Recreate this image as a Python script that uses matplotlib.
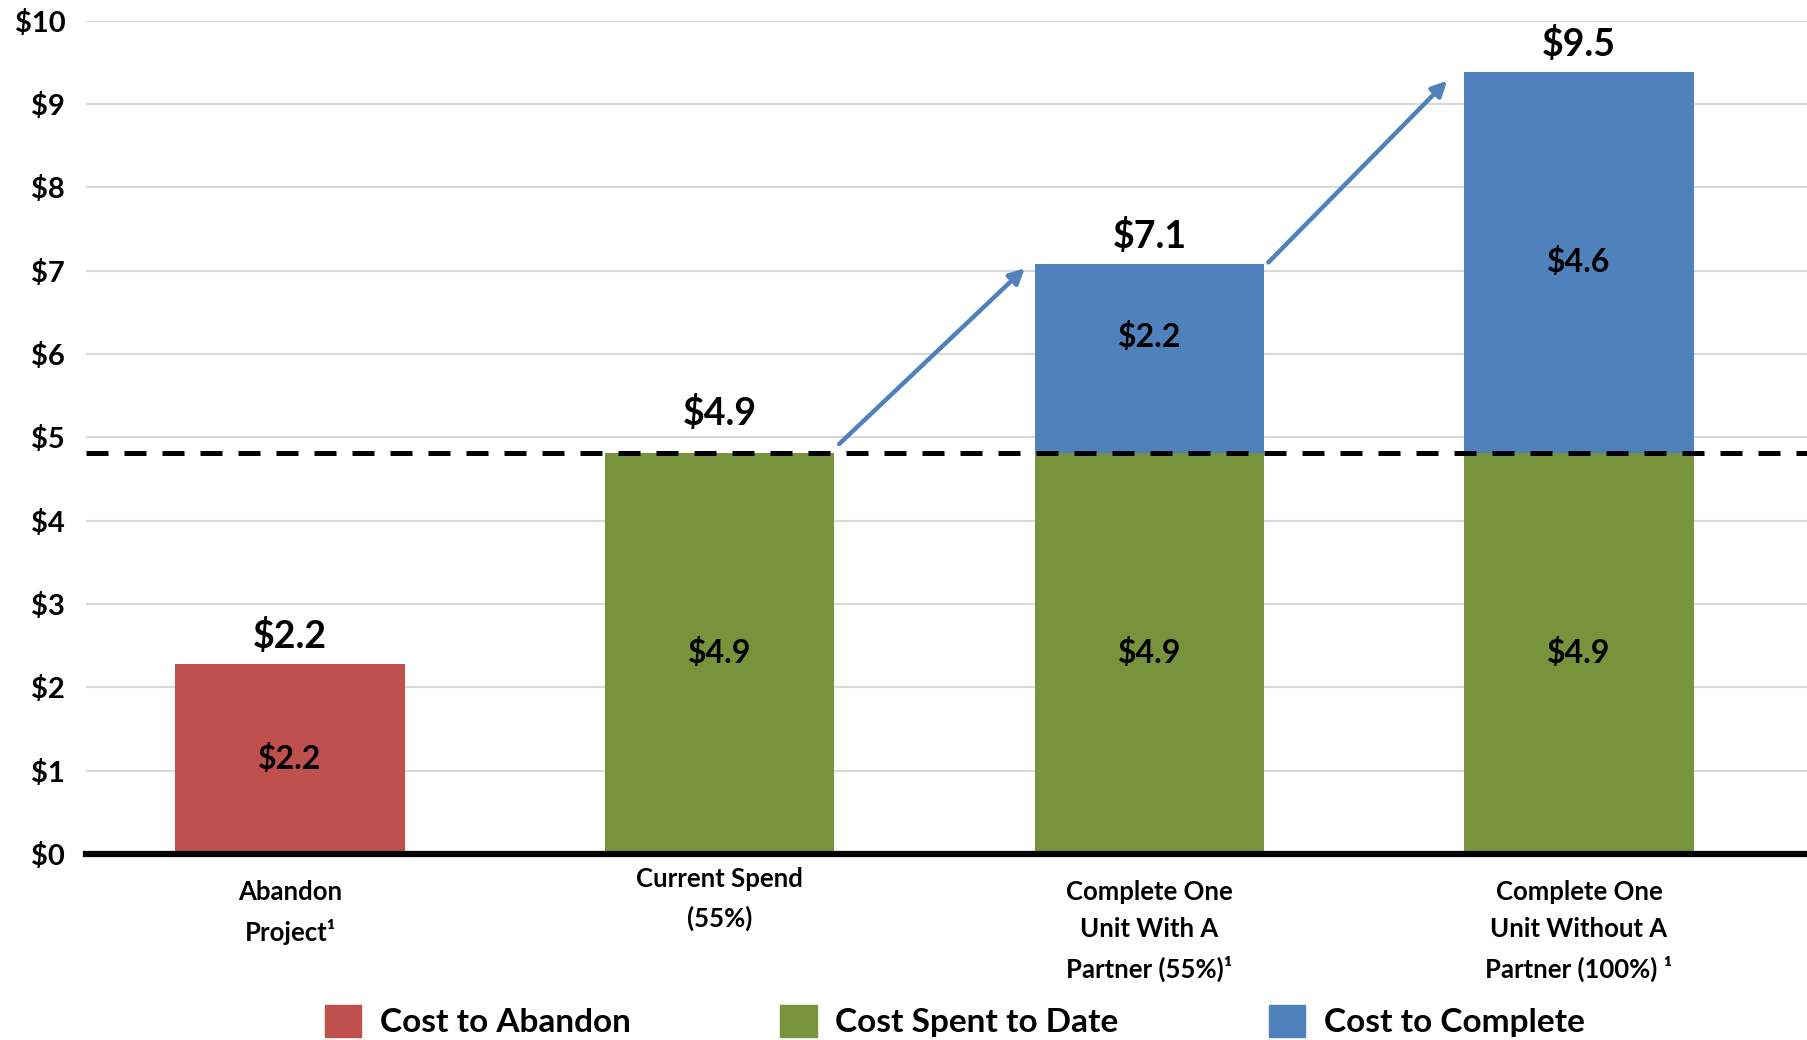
import matplotlib.pyplot as plt
from matplotlib.patches import Patch

plt.rcParams['font.family'] = ['Lato', 'DejaVu Sans']
plt.rcParams['font.weight'] = 'bold'

categories = ['Abandon\nProject\u00b9', 'Current Spend\n(55%)',
              'Complete One\nUnit With A\nPartner (55%)\u00b9',
              'Complete One\nUnit Without A\nPartner (100%) \u00b9']
abandon = [2.28, 0, 0, 0]
spent = [0, 4.81, 4.81, 4.81]
complete = [0, 0, 2.27, 4.58]
abandon_labels = ['$2.2', '', '', '']
spent_labels = ['', '$4.9', '$4.9', '$4.9']
complete_labels = ['', '', '$2.2', '$4.6']
total_labels = ['$2.2', '$4.9', '$7.1', '$9.5']
spent_to_date = 4.81

red = '#C0504D'
green = '#77933C'
blue = '#4F81BD'

fig = plt.figure(figsize=(18.08, 10.40), dpi=100)
ax = fig.add_axes([0.0476, 0.179, 0.9524, 0.801])

x = list(range(len(categories)))
w = 0.534
ax.bar(x, abandon, w, color=red, zorder=2)
ax.bar(x, spent, w, bottom=abandon, color=green, zorder=2)
bottoms = [a + s for a, s in zip(abandon, spent)]
ax.bar(x, complete, w, bottom=bottoms, color=blue, zorder=2)

total_pad = [0.12, 0.27, 0.12, 0.12]
label_y = [-0.031, -0.016, -0.031, -0.031]
for i in x:
    if abandon[i]:
        ax.text(i, abandon[i] / 2, abandon_labels[i], ha='center', va='center', fontsize=23)
    if spent[i]:
        ax.text(i, abandon[i] + spent[i] / 2, spent_labels[i], ha='center', va='center', fontsize=23)
    if complete[i]:
        ax.text(i, bottoms[i] + complete[i] / 2 + 0.26 * (complete[i] < 3), complete_labels[i],
                ha='center', va='center', fontsize=23)
    top = abandon[i] + spent[i] + complete[i]
    ax.text(i, top + total_pad[i], total_labels[i], ha='center', va='bottom', fontsize=27)
    ax.text(i, label_y[i], categories[i], ha='center', va='top',
            fontsize=18.5, linespacing=1.68,
            transform=ax.get_xaxis_transform(), clip_on=False)

# dashed line at spent to date
ax.axhline(spent_to_date, color='black', lw=3.6, dashes=(4.4, 3.2), zorder=3)
ax.axhline(0, color='black', lw=4.5, zorder=4, clip_on=False)

# arrows between scenarios
arrows = [((1.278, 4.92), (1.71, 7.03)), ((2.277, 7.10), (2.693, 9.28))]
for start, end in arrows:
    ax.annotate('', xy=end, xytext=start,
                arrowprops=dict(arrowstyle='-|>,head_length=0.9,head_width=0.45',
                                color=blue, lw=3.2, shrinkA=0, shrinkB=0), zorder=5)

ax.set_xlim(-0.475, 3.533)
ax.set_ylim(0, 10)
ax.set_yticks(range(0, 11))
ax.set_yticklabels(['$%d' % v for v in range(0, 11)], fontsize=21)
ax.set_xticks([])
ax.tick_params(axis='y', length=0, pad=15)
ax.grid(axis='y', color='#d9d9d9', lw=1.5, zorder=0)
for s in ax.spines.values():
    s.set_visible(False)

handles = [Patch(color=red, label='Cost to Abandon'),
           Patch(color=green, label='Cost Spent to Date'),
           Patch(color=blue, label='Cost to Complete')]
fig.legend(handles=handles, loc='center', bbox_to_anchor=(0.528, 0.018), ncol=3,
           frameon=False, fontsize=24, handlelength=1.1, handleheight=1.1,
           columnspacing=4.5, handletextpad=0.55, borderaxespad=0)

fig.savefig('out.png', dpi=100)
